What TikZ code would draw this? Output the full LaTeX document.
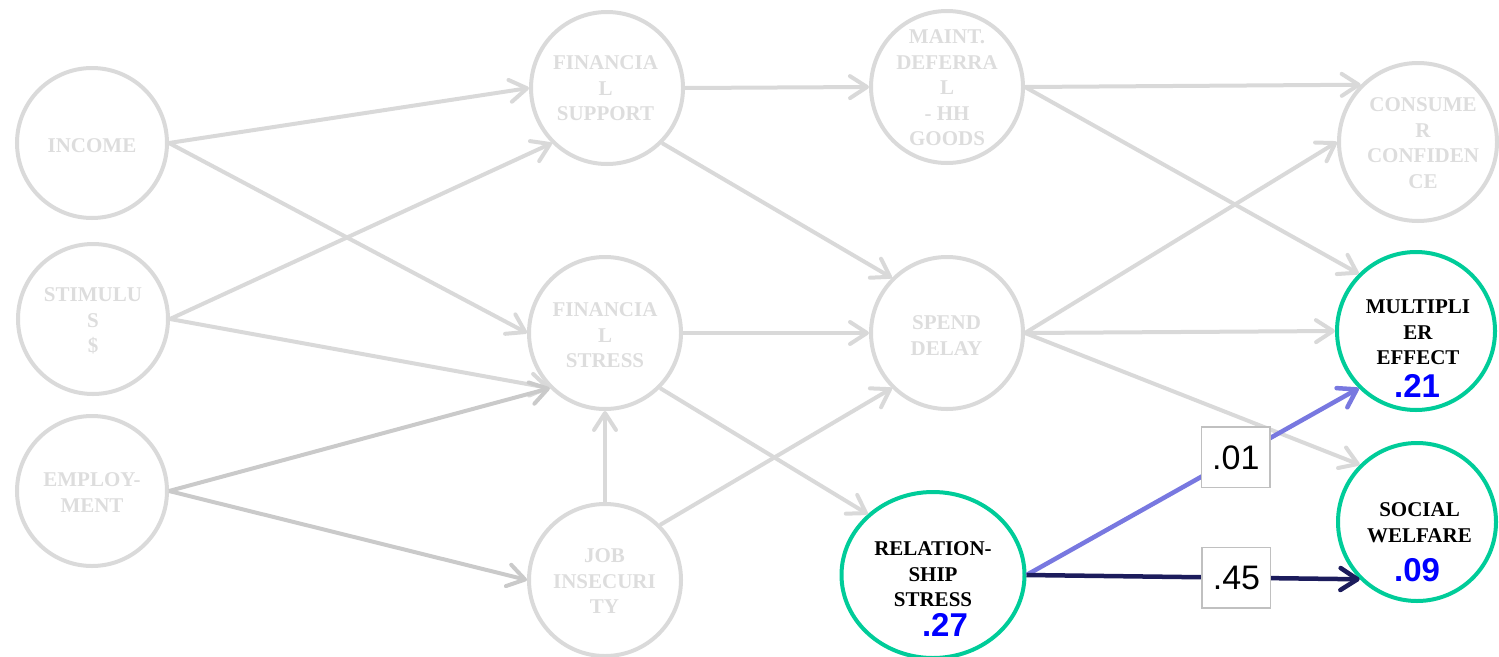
\documentclass[tikz,border=0pt]{standalone}
\usepackage{fontspec}
\setmainfont{Liberation Serif}
\newfontfamily\arialf{Liberation Sans}
\usetikzlibrary{arrows.meta,shapes.geometric}
\definecolor{nodegray}{RGB}{218,218,218}
\definecolor{txtgray}{RGB}{221,221,221}
\definecolor{edgegray}{RGB}{217,217,217}
\definecolor{empgray}{RGB}{202,202,202}
\definecolor{tealgreen}{RGB}{0,204,153}
\definecolor{purpleedge}{RGB}{120,120,224}
\definecolor{navyedge}{RGB}{28,28,92}
\definecolor{boxgray}{RGB}{192,192,192}
\definecolor{valblue}{RGB}{0,0,255}
\begin{document}
\begin{tikzpicture}[x=1pt,y=-1pt,
  gcirc/.style={circle,draw=nodegray,line width=4pt,inner sep=0pt,minimum size=152pt},
  ccirc/.style={circle,draw=tealgreen,line width=4pt,inner sep=0pt,minimum size=158pt},
  rellipse/.style={ellipse,draw=tealgreen,line width=4pt,inner sep=0pt,minimum width=183pt,minimum height=166pt},
  tip/.style={-{Straight Barb[length=17pt,width=22pt,round]}},
  gedge/.style={tip,draw=edgegray,line width=4pt},
  eedge/.style={tip,draw=empgray,line width=4pt},
  pedge/.style={tip,draw=purpleedge,line width=4.5pt},
  nedge/.style={tip,draw=navyedge,line width=4.5pt},
  gtxt/.style={anchor=north,inner sep=0pt,align=center,text=txtgray,font=\fontsize{21}{25.5}\selectfont\bfseries},
  btxt/.style={anchor=north,inner sep=0pt,align=center,text=black,font=\fontsize{21}{25.5}\selectfont\bfseries},
  valtxt/.style={anchor=base,inner sep=0pt,text=valblue,font=\arialf\bfseries\fontsize{33}{38}\selectfont},
  valbox/.style={rectangle,draw=boxgray,line width=1.5pt,fill=white,minimum width=68.5pt,minimum height=60.5pt,inner sep=0pt,font=\arialf\fontsize{34}{40}\selectfont}
]
\useasboundingbox (0,0) rectangle (1499,656);

% nodes (circles)
\node[gcirc,minimum size=150pt] (inc) at (92,143) {};
\node[gcirc,minimum size=150pt] (stim) at (93,319) {};
\node[gcirc,minimum size=150pt] (emp) at (92,491) {};
\node[gcirc] (fsup) at (607,88) {};
\node[gcirc] (fstr) at (605,333) {};
\node[gcirc] (job) at (605,580) {};
\node[gcirc] (maint) at (947,87) {};
\node[gcirc] (spend) at (947,333) {};
\node[gcirc,minimum size=158pt] (cons) at (1418,142) {};
\node[ccirc] (mult) at (1416,331) {};
\node[ccirc] (soc) at (1417,522) {};
\node[rellipse] (rel) at (933,575) {};

% connectors
\draw[gedge] (inc.east) -- (fsup.west);
\draw[gedge] (inc.east) -- (fstr.west);
\draw[gedge] (stim.east) -- (fsup.south west);
\draw[gedge] (stim.east) -- (fstr.south west);
\draw[eedge] (emp.east) -- (fstr.south west);
\draw[eedge] (emp.east) -- (job.west);
\draw[gedge] (job.north) -- (fstr.south);
\draw[gedge] (job.north east) -- (spend.south west);
\draw[gedge] (fsup.east) -- (maint.west);
\draw[gedge] (fsup.south east) -- (spend.north west);
\draw[gedge] (fstr.east) -- (spend.west);
\draw[gedge] (fstr.south east) -- (rel.137);
\draw[gedge] (maint.east) -- (cons.north west);
\draw[gedge] (maint.east) -- (mult.north west);
\draw[gedge] (spend.east) -- (cons.west);
\draw[gedge] (spend.east) -- (mult.west);
\draw[gedge] (spend.east) -- (soc.north west);
\draw[pedge] (rel.east) -- node[valbox,pos=0.63] (l01) {.01} (mult.south west);
\draw[nedge] (rel.east) -- node[valbox,pos=0.63] (l45) {.45} (soc.south west);

% texts
\node[gtxt] (inc-t) at (92,138.5) {INCOME};
\node[gtxt] (stim-t) at (93,287.8) {STIMULU\\S\\\$};
\node[gtxt] (emp-t) at (92,472.8) {EMPLOY-\\MENT};
\node[gtxt] (fsup-t) at (605.5,55.8) {FINANCIA\\L\\SUPPORT};
\node[gtxt] (fstr-t) at (605,302.8) {FINANCIA\\L\\STRESS};
\node[gtxt] (job-t) at (604.5,548.8) {JOB\\INSECURI\\TY};
\node[gtxt] (maint-t) at (947,29.8) {MAINT.\\DEFERRA\\L\\- HH\\GOODS};
\node[gtxt] (spend-t) at (946.5,315.8) {SPEND\\DELAY};
\node[gtxt] (cons-t) at (1423,97.8) {CONSUME\\R\\CONFIDEN\\CE};
\node[btxt] (rel-t) at (933,541.8) {RELATION-\\SHIP\\STRESS};
\node[btxt] (mult-t) at (1418,299.8) {MULTIPLI\\ER\\EFFECT};
\node[btxt] (soc-t) at (1419.5,502.8) {SOCIAL\\WELFARE};
\node[valtxt] (rel-v) at (945,636) {.27};
\node[valtxt] (mult-v) at (1417,397) {.21};
\node[valtxt] (soc-v) at (1417,581) {.09};
\end{tikzpicture}
\end{document}
